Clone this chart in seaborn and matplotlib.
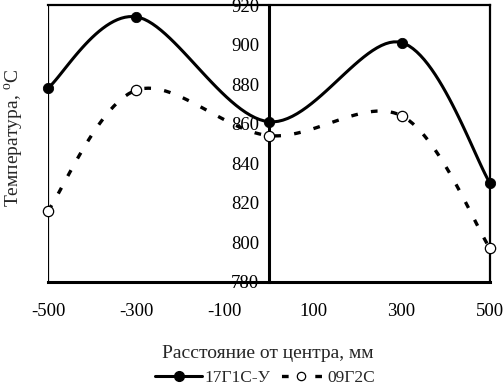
import numpy as np
import matplotlib
matplotlib.use("Agg")
import matplotlib.pyplot as plt
import seaborn as sns
from matplotlib.lines import Line2D

# distance from the centre, mm
distance = [-500, -300, 0, 300, 500]
# temperature, C
temp_17g1s = [878, 914, 861, 901, 830]
temp_09g2s = [816, 877, 854, 864, 797]
series_names = ["17Г1С-У", "09Г2С"]

x_ticks = [-500, -300, -100, 100, 300, 500]
y_ticks = [780, 800, 820, 840, 860, 880, 900, 920]
x_lim = (-500, 500)
y_lim = (780, 920)


def smooth_curve(x, y, n=30):
    # excel-like smoothed line: bezier segments through the points
    sx = (x_lim[1] - x_lim[0]) / 442.0
    sy = (y_lim[1] - y_lim[0]) / 277.0
    p = np.column_stack([np.asarray(x, float) / sx, np.asarray(y, float) / sy])
    p = np.vstack([p[0], p, p[-1]])
    t = np.linspace(0, 1, n)[:, None]
    out = []
    for i in range(1, len(p) - 2):
        p0, p1, p2, p3 = p[i - 1], p[i], p[i + 1], p[i + 2]
        d12 = np.linalg.norm(p2 - p1)
        a1 = (p2 - p0) / 6.0
        a2 = (p3 - p1) / 6.0
        # keep control arms shorter than half the segment
        if np.linalg.norm(a1) > d12 / 2:
            a1 = a1 * (d12 / 2) / np.linalg.norm(a1)
        if np.linalg.norm(a2) > d12 / 2:
            a2 = a2 * (d12 / 2) / np.linalg.norm(a2)
        c1 = p1 + a1
        c2 = p2 - a2
        seg = ((1 - t) ** 3) * p1 + 3 * ((1 - t) ** 2) * t * c1 + 3 * (1 - t) * t ** 2 * c2 + t ** 3 * p2
        out.append(seg if i == 1 else seg[1:])
    out = np.vstack(out)
    return out[:, 0] * sx, out[:, 1] * sy


sns.set_style("white")
plt.rcParams["font.family"] = ["Liberation Serif", "DejaVu Serif"]
plt.rcParams["mathtext.fontset"] = "custom"
plt.rcParams["mathtext.rm"] = "Liberation Serif"
plt.rcParams["axes.unicode_minus"] = False
plt.rcParams["font.size"] = 13.5

fig = plt.figure(figsize=(5.03, 3.89), dpi=100)
ax = fig.add_axes([48 / 503, 1 - 282 / 389, 442 / 503, 277 / 389])

xs, ys = smooth_curve(distance, temp_17g1s)
sns.lineplot(x=xs, y=ys, sort=False, estimator=None, color="black", lw=2.2, ax=ax)
xs, ys = smooth_curve(distance, temp_09g2s)
sns.lineplot(x=xs, y=ys, sort=False, estimator=None, color="black", lw=2.4,
             linestyle=(0, (2, 4)), ax=ax)

sns.scatterplot(x=distance, y=temp_17g1s, color="black", s=55, marker="o",
                edgecolor="black", zorder=5, clip_on=False, ax=ax)
sns.scatterplot(x=distance, y=temp_09g2s, color="white", s=55, marker="o",
                edgecolor="black", linewidth=0.9, zorder=5, clip_on=False, ax=ax)

ax.set_xlim(*x_lim)
ax.set_ylim(*y_lim)
ax.set_xticks(x_ticks)
ax.set_yticks(y_ticks)
ax.set_xlabel("")
ax.set_ylabel("")

# y axis crosses in the middle, frame drawn around plot area
ax.spines["left"].set_position(("data", 0))
ax.spines["left"].set_linewidth(2.2)
ax.spines["bottom"].set_linewidth(2.2)
ax.spines["top"].set_linewidth(1.6)
ax.spines["right"].set_linewidth(1.6)
for s in ax.spines.values():
    s.set_color("black")
    s.set_zorder(3)
ax.axvline(x_lim[0], color="black", lw=1.6, zorder=3)

ax.tick_params(axis="x", direction="out", length=6, width=1.6, pad=9, colors="black")
ax.tick_params(axis="y", direction="out", length=5, width=1.6, pad=2, colors="black")
for lab in ax.get_yticklabels():
    lab.set_zorder(6)

fig.text(14 / 503, 1 - 138 / 389, "Температура, $^{\\rm o}$C", rotation=90,
         ha="center", va="center", fontsize=14)
fig.text(268 / 503, 1 - 353 / 389, "Расстояние от центра, мм", ha="center", va="center",
         fontsize=14)

handles = [
    Line2D([], [], color="black", lw=2.2, marker="o", markersize=7, markerfacecolor="black"),
    Line2D([], [], color="black", lw=2.4, linestyle=(8.96, (2, 8)), marker="o", markersize=6,
           markerfacecolor="white", markeredgewidth=0.9),
]
fig.legend(handles, series_names, loc="center", bbox_to_anchor=(265 / 503, 1 - 378 / 389),
           ncol=2, frameon=False, handlelength=2.7, handletextpad=0.15, columnspacing=0.4,
           borderpad=0, fontsize=12.5)

fig.savefig("out.png", dpi=100)
